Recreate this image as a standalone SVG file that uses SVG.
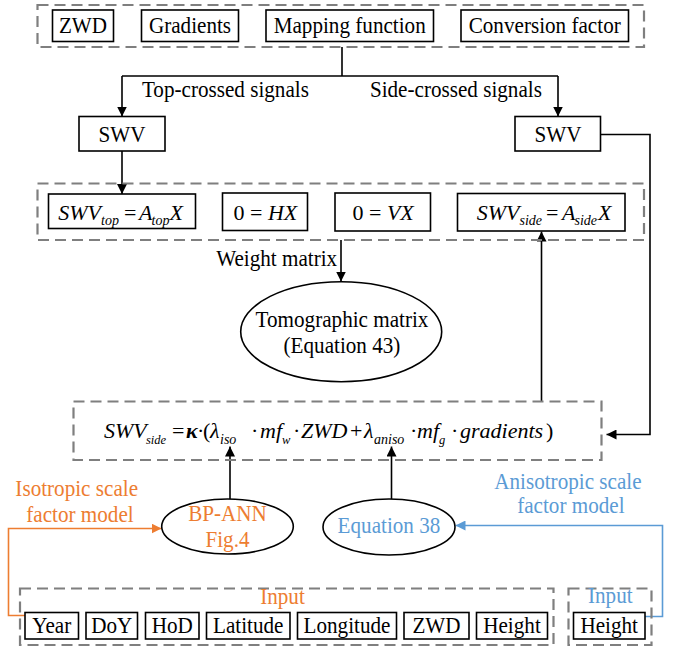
<svg xmlns="http://www.w3.org/2000/svg" width="679" height="652" viewBox="0 0 679 652">
<style>
text{font-family:"Liberation Serif","Times New Roman",serif;font-size:23px;fill:#000;text-anchor:middle}
text.s{transform-box:fill-box;transform-origin:center;transform:scaleX(0.92)}
text.eq{text-anchor:start;font-size:22px}
text.fm{text-anchor:start;font-size:22px}
.box{fill:#fff;stroke:#000;stroke-width:1.6}
.dash{fill:none;stroke:#7f7f7f;stroke-width:2.2;stroke-dasharray:11 6}
.ln{fill:none;stroke:#000;stroke-width:1.6}
.or{fill:none;stroke:#ED7D31;stroke-width:1.6}
.bl{fill:none;stroke:#5B9BD5;stroke-width:1.6}
.it{font-style:italic}
.sub{font-style:italic;font-size:14px}
.sm{font-size:12.5px}
.ot{fill:#ED7D31}
.bt{fill:#5B9BD5}
</style>
<defs>
<marker id="ak" viewBox="0 0 10 10" refX="10" refY="5" markerWidth="10" markerHeight="10" markerUnits="userSpaceOnUse" orient="auto"><path d="M0,0 L10,5 L0,10 z" fill="#000"/></marker>
<marker id="ao" viewBox="0 0 10 10" refX="10" refY="5" markerWidth="10" markerHeight="10" markerUnits="userSpaceOnUse" orient="auto"><path d="M0,0 L10,5 L0,10 z" fill="#ED7D31"/></marker>
<marker id="ab" viewBox="0 0 10 10" refX="10" refY="5" markerWidth="10" markerHeight="10" markerUnits="userSpaceOnUse" orient="auto"><path d="M0,0 L10,5 L0,10 z" fill="#5B9BD5"/></marker>
</defs>

<g id="connectors">
<path class="ln" d="M342,47 V76 M122,76 H558" />
<path class="ln" d="M122,76 V116.5" marker-end="url(#ak)"/>
<path class="ln" d="M558,76 V116.5" marker-end="url(#ak)"/>
<path class="ln" d="M122,151 V194" marker-end="url(#ak)"/>
<path class="ln" d="M341,240 V281.5" marker-end="url(#ak)"/>
<path class="ln" d="M541.5,401 V231.5" marker-end="url(#ak)"/>
<path class="ln" d="M600.5,134.5 H650 V434.5 H606.5" marker-end="url(#ak)"/>
<path class="ln" d="M230,499 V446.5" marker-end="url(#ak)"/>
<path class="ln" d="M391.5,499 V446.5" marker-end="url(#ak)"/>
<path class="or" d="M25,615.5 H8.5 V528.5 H161.5" marker-end="url(#ao)"/>
<path class="bl" d="M645,616.5 H662.5 V525.5 H455.5" marker-end="url(#ab)"/>
<text class="s" x="225.4" y="96.7">Top-crossed signals</text>
<text class="s" x="455.9" y="96.7">Side-crossed signals</text>
<text class="s" x="276.7" y="266">Weight matrix</text>
<text class="s ot" x="76.7" y="495.7">Isotropic scale</text>
<text class="s ot" x="80" y="521.7">factor model</text>
<text class="s bt" x="567.9" y="489.3">Anisotropic scale</text>
<text class="s bt" x="570.9" y="513.3">factor model</text>
</g>

<g id="group-top">
<rect class="dash" x="37.5" y="5" width="606.5" height="42"/>
</g>
<g id="zwd-top"><rect class="box" x="52.5" y="10" width="61" height="31.5"/><text class="s" x="83" y="33.3">ZWD</text></g>
<g id="gradients"><rect class="box" x="141.5" y="10" width="97" height="31.5"/><text class="s" x="190" y="33.3">Gradients</text></g>
<g id="mapping"><rect class="box" x="266" y="10" width="167.5" height="31.5"/><text class="s" x="349.7" y="33.3">Mapping function</text></g>
<g id="conversion"><rect class="box" x="461" y="10" width="167.5" height="31.5"/><text class="s" x="544.7" y="33.3">Conversion factor</text></g>

<g id="swv-top"><rect class="box" x="79" y="116.5" width="86" height="34.5"/><text class="s" x="122" y="141.7">SWV</text></g>
<g id="swv-side"><rect class="box" x="515" y="116.5" width="85.5" height="34.5"/><text class="s" x="558" y="141.7">SWV</text></g>

<g id="group-eq">
<rect class="dash" x="37.5" y="183.5" width="606.5" height="56.5"/>
</g>
<g id="eq-top"><rect class="box" x="48.5" y="194" width="147" height="34.5"/>
<text class="eq" y="219.5"><tspan class="it" x="58.3">SWV</tspan><tspan class="sub" x="101" dy="5">top</tspan><tspan x="124" dy="-5">=</tspan><tspan class="it" x="139">A</tspan><tspan class="sub" x="151.5" dy="5">top</tspan><tspan class="it" x="169.5" dy="-5">X</tspan></text></g>
<g id="eq-hx"><rect class="box" x="222.5" y="193" width="85" height="37.5"/>
<text class="eq" x="233.5" y="219.5">0 = <tspan class="it">HX</tspan></text></g>
<g id="eq-vx"><rect class="box" x="335" y="193" width="95.5" height="38"/>
<text class="eq" x="352.5" y="219.5" font-size="21">0 = <tspan class="it">VX</tspan></text></g>
<g id="eq-side"><rect class="box" x="457.5" y="193.5" width="167.5" height="37.5"/>
<text class="eq" y="219.5"><tspan class="it" x="476.7">SWV</tspan><tspan class="sub" x="519.5" dy="5">side</tspan><tspan x="546" dy="-5">=</tspan><tspan class="it" x="562">A</tspan><tspan class="sub" x="574.5" dy="5">side</tspan><tspan class="it" x="598" dy="-5">X</tspan></text></g>

<g id="tomographic"><ellipse class="box" cx="341.2" cy="331.7" rx="100.5" ry="50"/>
<text class="s" x="342" y="326.7">Tomographic matrix</text>
<text class="s" x="342" y="353">(Equation 43)</text></g>

<g id="formula">
<rect class="dash" x="73.5" y="401.5" width="528" height="58.5"/>
<text class="fm" y="438"><tspan class="it" x="104">SWV</tspan><tspan class="sub sm" x="146" dy="6">side</tspan><tspan x="172" dy="-6">=</tspan><tspan class="it" font-weight="bold" x="186">κ</tspan><tspan x="197">·</tspan><tspan x="203">(</tspan><tspan class="it" x="210">λ</tspan><tspan class="sub" x="220" dy="6">iso</tspan><tspan x="251" dy="-6">·</tspan><tspan class="it" x="260">mf</tspan><tspan class="sub sm" x="282" dy="6">w</tspan><tspan x="293" dy="-6">·</tspan><tspan class="it" x="301">ZWD</tspan><tspan x="350">+</tspan><tspan class="it" x="364">λ</tspan><tspan class="sub" x="374" dy="6">aniso</tspan><tspan x="410" dy="-6">·</tspan><tspan class="it" x="417">mf</tspan><tspan class="sub sm" font-style="normal" x="439" dy="6">g</tspan><tspan x="451" dy="-6">·</tspan><tspan class="it" x="460">gradients</tspan><tspan x="546">)</tspan></text>
</g>

<g id="bp-ann"><ellipse class="box" cx="227.5" cy="526.5" rx="65.8" ry="27.5"/>
<text class="s ot" x="227.5" y="520.7">BP-ANN</text>
<text class="s ot" x="227.5" y="546.7">Fig.4</text></g>
<g id="equation38"><ellipse class="box" cx="389" cy="527" rx="66" ry="28"/>
<text class="s bt" x="389" y="533.5">Equation 38</text></g>

<g id="input-iso">
<rect class="dash" x="20" y="588.5" width="533.5" height="56.5"/>
<text class="s ot" x="282.5" y="604">Input</text>
</g>
<g id="in-year"><rect class="box" x="25" y="612.5" width="53.5" height="26.5"/><text class="s" x="51.7" y="633.3">Year</text></g>
<g id="in-doy"><rect class="box" x="86" y="612.5" width="51.5" height="26.5"/><text class="s" x="111.7" y="633.3">DoY</text></g>
<g id="in-hod"><rect class="box" x="145.5" y="612.5" width="53.5" height="26.5"/><text class="s" x="172.2" y="633.3">HoD</text></g>
<g id="in-lat"><rect class="box" x="206.5" y="612.5" width="83.5" height="26.5"/><text class="s" x="248.2" y="633.3">Latitude</text></g>
<g id="in-lon"><rect class="box" x="297.5" y="612.5" width="99" height="26.5"/><text class="s" x="347" y="633.3">Longitude</text></g>
<g id="in-zwd"><rect class="box" x="404" y="612.5" width="65" height="26.5"/><text class="s" x="436.5" y="633.3">ZWD</text></g>
<g id="in-height"><rect class="box" x="476.5" y="612.5" width="71" height="26.5"/><text class="s" x="512" y="633.3">Height</text></g>

<g id="input-aniso">
<rect class="dash" x="568.5" y="588.5" width="83" height="56.5"/>
<text class="s bt" x="610.3" y="603.3">Input</text>
</g>
<g id="in-height2"><rect class="box" x="573.5" y="612.5" width="71.5" height="26.5"/><text class="s" x="609.2" y="633.3">Height</text></g>
</svg>
